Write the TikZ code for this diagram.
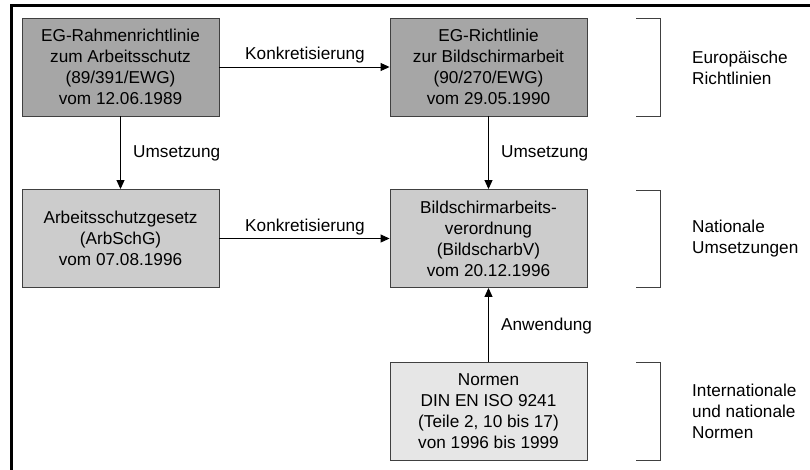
\documentclass[tikz,border=0pt]{standalone}
\usepackage{fontspec}
\setmainfont{Liberation Sans}
\usetikzlibrary{arrows.meta}
\definecolor{boxdark}{HTML}{A6A6A6}
\definecolor{boxmid}{HTML}{CCCCCC}
\definecolor{boxlight}{HTML}{E6E6E6}
\definecolor{edge}{HTML}{404040}
\begin{document}
\begin{tikzpicture}[x=1pt,y=-1pt,
  font=\fontsize{17.2}{21}\selectfont,
  box/.style={draw=edge,line width=0.9pt,minimum width=197pt,minimum height=98pt,
    align=center,inner sep=0pt},
  link/.style={line width=0.9pt,-{Triangle[length=9pt,width=8pt]}},
  lbl/.style={inner sep=0pt},
  brace/.style={draw=edge,line width=0.9pt},
  group/.style={inner sep=0pt,align=left,anchor=west}]
\useasboundingbox (0,0) rectangle (810,469);
\fill[white] (0,0) rectangle (810,469);
% outer frame (top and left edges)
\draw[line width=2.5pt,line cap=rect] (810,5.5) -- (11.5,5.5) -- (11.5,469);

% documents
\node[box,fill=boxdark] (rl) at (120.5,67) {EG-Rahmenrichtlinie\\zum Arbeitsschutz\\(89/391/EWG)\\vom 12.06.1989};
\node[box,fill=boxdark] (bs) at (488.5,67) {EG-Richtlinie\\zur Bildschirmarbeit\\(90/270/EWG)\\vom 29.05.1990};
\node[box,fill=boxmid] (as) at (120.5,238.5) {Arbeitsschutzgesetz\\(ArbSchG)\\vom 07.08.1996};
\node[box,fill=boxmid] (bv) at (488.5,238.5) {Bildschirmarbeits-\\verordnung\\(BildscharbV)\\vom 20.12.1996};
\node[box,fill=boxlight] (nm) at (488.5,411) {Normen\\DIN EN ISO 9241\\(Teile 2, 10 bis 17)\\von 1996 bis 1999};

% relations
\draw[link] (rl) -- (bs);
\draw[link] (as) -- (bv);
\draw[link] (rl) -- (as);
\draw[link] (bs) -- (bv);
\draw[link] (nm) -- (bv);

\node[lbl] (k1) at (305,55) {Konkretisierung};
\node[lbl] (k2) at (305,227) {Konkretisierung};
\node[lbl,anchor=west] (u1) at (133,153) {Umsetzung};
\node[lbl,anchor=west] (u2) at (501,153) {Umsetzung};
\node[lbl,anchor=west] (an) at (501,326) {Anwendung};

% level brackets
\draw[brace] (636,18) -- (660,18) -- (660,116) -- (636,116);
\draw[brace] (636,190) -- (660,190) -- (660,287) -- (636,287);
\draw[brace] (636,362) -- (660,362) -- (660,460) -- (636,460);

\node[group] (g1) at (692,68) {Europäische\\Richtlinien};
\node[group] (g2) at (692,238.5) {Nationale\\Umsetzungen};
\node[group] (g3) at (692,411) {Internationale\\und nationale\\Normen};
\end{tikzpicture}
\end{document}
